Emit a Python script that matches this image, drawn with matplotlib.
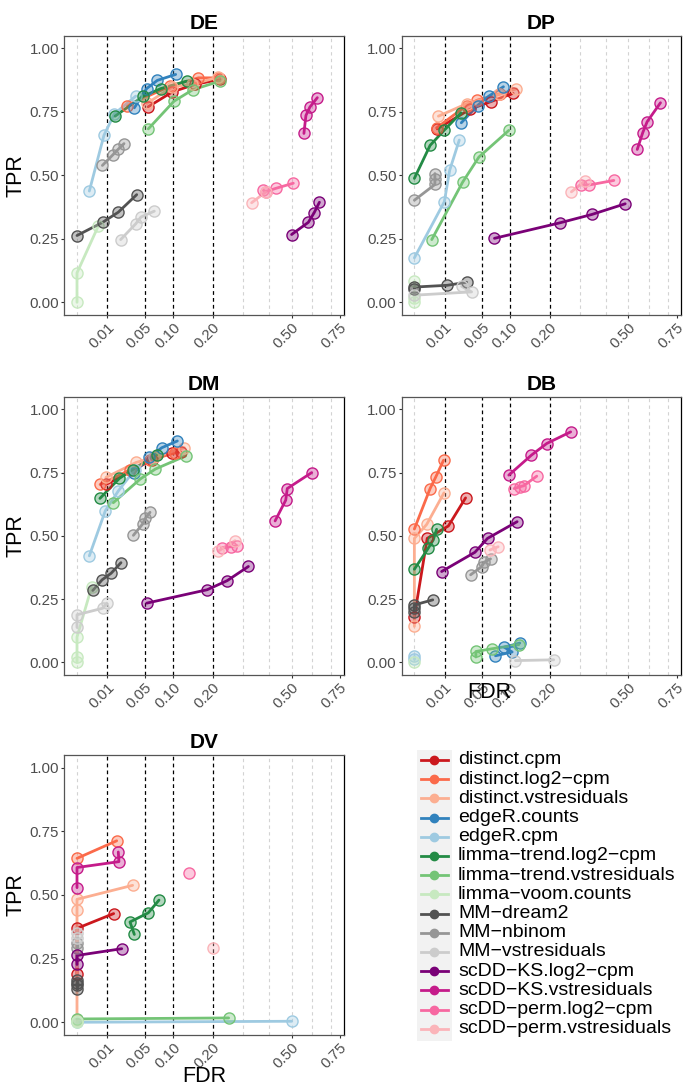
import numpy as np
import matplotlib
matplotlib.use("Agg")
import matplotlib.pyplot as plt
from matplotlib.colors import to_rgba
from matplotlib.lines import Line2D
from matplotlib.patches import Rectangle
from matplotlib.ticker import NullLocator

plt.rcParams['font.family'] = ['Liberation Sans', 'DejaVu Sans']

# methods and colours (legend order)
METHODS = ["distinct.cpm", "distinct.log2−cpm", "distinct.vstresiduals",
           "edgeR.counts", "edgeR.cpm",
           "limma−trend.log2−cpm", "limma−trend.vstresiduals", "limma−voom.counts",
           "MM−dream2", "MM−nbinom", "MM−vstresiduals",
           "scDD−KS.log2−cpm", "scDD−KS.vstresiduals",
           "scDD−perm.log2−cpm", "scDD−perm.vstresiduals"]
COLORS = ["#CB181D", "#FB6A4A", "#FCAE91", "#3182BD", "#9ECAE1",
          "#238B45", "#74C476", "#C7E9C0", "#525252", "#969696", "#CCCCCC",
          "#7A0177", "#C51B8A", "#F768A1", "#FBB4B9"]

XTICKS = [0.01, 0.05, 0.10, 0.20, 0.50, 0.75]
XTICK_LABELS = ["0.01", "0.05", "0.10", "0.20", "0.50", "0.75"]
YTICKS = [0, 0.25, 0.5, 0.75, 1.0]
YTICK_LABELS = ["0.00", "0.25", "0.50", "0.75", "1.00"]
THRESHOLDS = [0.01, 0.05, 0.10, 0.20]
GRID_X = [0, 0.3, 0.4, 0.5, 0.6, 0.7]

# ---- DE ----
DE_FDR = {
    "distinct.cpm": [0.055, 0.099, 0.151, 0.222],
    "distinct.log2−cpm": [0.027, 0.094, 0.160, 0.220],
    "distinct.vstresiduals": [0.053, 0.099, 0.144, 0.217],
    "edgeR.counts": [0.0357, 0.0527, 0.070, 0.1057],
    "edgeR.cpm": [0.00165, 0.0079, 0.0151, 0.0374],
    "limma−trend.log2−cpm": [0.0157, 0.0478, 0.0766, 0.1306],
    "limma−trend.vstresiduals": [0.0552, 0.1021, 0.1452, 0.222],
    "limma−voom.counts": [0, 0, 0.0049],
    "MM−dream2": [0, 0.00715, 0.01855, 0.0387],
    "MM−nbinom": [0.007, 0.0138, 0.01825, 0.024],
    "MM−vstresiduals": [0.0207, 0.0374, 0.0445, 0.0649],
    "scDD−KS.log2−cpm": [0.5, 0.581, 0.61, 0.638],
    "scDD−KS.vstresiduals": [0.559, 0.569, 0.589, 0.627],
    "scDD−perm.log2−cpm": [0.377, 0.386, 0.430, 0.508],
    "scDD−perm.vstresiduals": [0.331, 0.386],
}
DE_TPR = {
    "distinct.cpm": [0.770, 0.829, 0.858, 0.878],
    "distinct.log2−cpm": [0.775, 0.851, 0.884, 0.884],
    "distinct.vstresiduals": [0.783, 0.849, 0.858, 0.887],
    "edgeR.counts": [0.766, 0.842, 0.874, 0.8975],
    "edgeR.cpm": [0.438, 0.658, 0.742, 0.812],
    "limma−trend.log2−cpm": [0.733, 0.812, 0.842, 0.871],
    "limma−trend.vstresiduals": [0.683, 0.792, 0.837, 0.871],
    "limma−voom.counts": [0, 0.116, 0.30],
    "MM−dream2": [0.263, 0.315, 0.355, 0.424],
    "MM−nbinom": [0.539, 0.580, 0.602, 0.625],
    "MM−vstresiduals": [0.247, 0.309, 0.336, 0.359],
    "scDD−KS.log2−cpm": [0.267, 0.315, 0.352, 0.394],
    "scDD−KS.vstresiduals": [0.665, 0.736, 0.769, 0.806],
    "scDD−perm.log2−cpm": [0.4415, 0.436, 0.449, 0.469],
    "scDD−perm.vstresiduals": [0.392, 0.434],
}

# ---- DP ----
DP_FDR = {
    "distinct.cpm": [0.0057, 0.0336, 0.0633, 0.1064],
    "distinct.log2−cpm": [0.0054, 0.0297, 0.0431, 0.0797],
    "distinct.vstresiduals": [0.0063, 0.0297, 0.0784, 0.1137],
    "edgeR.counts": [0.024, 0.0435, 0.0605, 0.0866],
    "edgeR.cpm": [0, 0.0098, 0.0136, 0.022],
    "limma−trend.log2−cpm": [0, 0.0027, 0.0096, 0.0237],
    "limma−trend.vstresiduals": [0.0033, 0.0254, 0.0454, 0.0973],
    "limma−voom.counts": [0, 0, 0],
    "MM−dream2": [0, 0, 0.0118, 0.0297],
    "MM−nbinom": [0, 0.0046, 0.0046, 0.0046],
    "MM−vstresiduals": [0, 0.0357, 0.0243],
    "scDD−KS.log2−cpm": [0.070, 0.231, 0.344, 0.485],
    "scDD−KS.vstresiduals": [0.542, 0.569, 0.591, 0.661],
    "scDD−perm.log2−cpm": [0.304, 0.333, 0.434],
    "scDD−perm.vstresiduals": [0.269, 0.316],
}
DP_TPR = {
    "distinct.cpm": [0.683, 0.760, 0.790, 0.823],
    "distinct.log2−cpm": [0.687, 0.775, 0.796, 0.821],
    "distinct.vstresiduals": [0.733, 0.782, 0.819, 0.841],
    "edgeR.counts": [0.707, 0.775, 0.812, 0.849],
    "edgeR.cpm": [0.175, 0.396, 0.520, 0.639],
    "limma−trend.log2−cpm": [0.488, 0.618, 0.677, 0.746],
    "limma−trend.vstresiduals": [0.247, 0.473, 0.572, 0.677],
    "limma−voom.counts": [0, 0.017, 0.083],
    "MM−dream2": [0.052, 0.060, 0.067, 0.079],
    "MM−nbinom": [0.402, 0.464, 0.486, 0.507],
    "MM−vstresiduals": [0.028, 0.041, 0.063],
    "scDD−KS.log2−cpm": [0.252, 0.313, 0.346, 0.388],
    "scDD−KS.vstresiduals": [0.602, 0.668, 0.711, 0.786],
    "scDD−perm.log2−cpm": [0.463, 0.462, 0.480],
    "scDD−perm.vstresiduals": [0.435, 0.477],
}

# ---- DM ----
DM_FDR = {
    "distinct.cpm": [0.0091, 0.0616, 0.0973, 0.1167],
    "distinct.log2−cpm": [0.0058, 0.030, 0.058, 0.105],
    "distinct.vstresiduals": [0.0091, 0.0378, 0.0638, 0.125],
    "edgeR.counts": [0.0353, 0.0568, 0.0778, 0.1093],
    "edgeR.cpm": [0.00165, 0.0087, 0.0186, 0.0365],
    "limma−trend.log2−cpm": [0.0057, 0.0195, 0.0336, 0.0689],
    "limma−trend.vstresiduals": [0.0143, 0.0431, 0.0666, 0.1282],
    "limma−voom.counts": [0, 0, 0, 0.0023],
    "MM−dream2": [0.0027, 0.0068, 0.0126, 0.021],
    "MM−nbinom": [0.0345, 0.0468, 0.0507, 0.0579],
    "MM−vstresiduals": [0, 0, 0.0072, 0.0096],
    "scDD−KS.log2−cpm": [0.0527, 0.184, 0.245, 0.319],
    "scDD−KS.vstresiduals": [0.426, 0.473, 0.480, 0.598],
    "scDD−perm.log2−cpm": [0.227, 0.258, 0.279],
    "scDD−perm.vstresiduals": [0.217, 0.271],
}
DM_TPR = {
    "distinct.cpm": [0.703, 0.801, 0.828, 0.832],
    "distinct.log2−cpm": [0.703, 0.760, 0.800, 0.828],
    "distinct.vstresiduals": [0.731, 0.790, 0.810, 0.849],
    "edgeR.counts": [0.749, 0.810, 0.848, 0.875],
    "edgeR.cpm": [0.421, 0.599, 0.678, 0.762],
    "limma−trend.log2−cpm": [0.648, 0.727, 0.762, 0.819],
    "limma−trend.vstresiduals": [0.631, 0.724, 0.764, 0.816],
    "limma−voom.counts": [0, 0.020, 0.100, 0.297],
    "MM−dream2": [0.284, 0.326, 0.352, 0.394],
    "MM−nbinom": [0.502, 0.547, 0.569, 0.593],
    "MM−vstresiduals": [0.138, 0.188, 0.214, 0.234],
    "scDD−KS.log2−cpm": [0.234, 0.287, 0.323, 0.379],
    "scDD−KS.vstresiduals": [0.559, 0.641, 0.687, 0.750],
    "scDD−perm.log2−cpm": [0.453, 0.457, 0.461],
    "scDD−perm.vstresiduals": [0.440, 0.481],
}

# ---- DB ----
DB_FDR = {
    "distinct.cpm": [0, 0.0018, 0.0126, 0.0286],
    "distinct.log2−cpm": [0, 0.0027, 0.0049, 0.0093],
    "distinct.vstresiduals": [0, 0, 0.00165, 0.0096],
    "edgeR.counts": [0.0718, 0.1043, 0.0879, 0.1212],
    "edgeR.cpm": [0, 0],
    "limma−trend.log2−cpm": [0, 0.0021, 0.0039, 0.0054],
    "limma−trend.vstresiduals": [0.0413, 0.0413, 0.0666, 0.119],
    "limma−voom.counts": [0],
    "MM−dream2": [0, 0, 0, 0.0037],
    "MM−nbinom": [0.0345, 0.0492, 0.0532, 0.0633],
    "MM−vstresiduals": [0.1115, 0.2118],
    "scDD−KS.log2−cpm": [0.0081, 0.040, 0.0584, 0.1152],
    "scDD−KS.vstresiduals": [0.0973, 0.1495, 0.1911, 0.2665],
    "scDD−perm.log2−cpm": [0.1086, 0.1212, 0.1306, 0.1634],
    "scDD−perm.vstresiduals": [0.0622, 0.0766],
}
DB_TPR = {
    "distinct.cpm": [0.181, 0.490, 0.539, 0.650],
    "distinct.log2−cpm": [0.527, 0.687, 0.731, 0.799],
    "distinct.vstresiduals": [0.142, 0.490, 0.545, 0.670],
    "edgeR.counts": [0.026, 0.041, 0.060, 0.076],
    "edgeR.cpm": [0.013, 0.026],
    "limma−trend.log2−cpm": [0.368, 0.451, 0.484, 0.526],
    "limma−trend.vstresiduals": [0.021, 0.043, 0.054, 0.070],
    "limma−voom.counts": [0],
    "MM−dream2": [0.200, 0.215, 0.227, 0.247],
    "MM−nbinom": [0.346, 0.378, 0.396, 0.409],
    "MM−vstresiduals": [0.007, 0.010],
    "scDD−KS.log2−cpm": [0.359, 0.435, 0.490, 0.556],
    "scDD−KS.vstresiduals": [0.740, 0.819, 0.865, 0.911],
    "scDD−perm.log2−cpm": [0.687, 0.694, 0.698, 0.736],
    "scDD−perm.vstresiduals": [0.444, 0.457],
}

# ---- DV ----
DV_FDR = {
    "distinct.cpm": [0, 0, 0.0146],
    "distinct.log2−cpm": [0, 0.0171],
    "distinct.vstresiduals": [0, 0, 0, 0.0336],
    "edgeR.cpm": [0, 0.5],
    "limma−trend.log2−cpm": [0.0357, 0.0305, 0.0552, 0.073],
    "limma−trend.vstresiduals": [0, 0.2497],
    "limma−voom.counts": [0, 0],
    "MM−dream2": [0, 0, 0, 0],
    "MM−nbinom": [0, 0],
    "MM−vstresiduals": [0, 0],
    "scDD−KS.log2−cpm": [0, 0, 0.0217],
    "scDD−KS.vstresiduals": [0, 0, 0.0191, 0.0185],
    "scDD−perm.log2−cpm": [0.137],
    "scDD−perm.vstresiduals": [0.2018],
}
DV_TPR = {
    "distinct.cpm": [0.188, 0.369, 0.427],
    "distinct.log2−cpm": [0.644, 0.713],
    "distinct.vstresiduals": [0.01, 0.440, 0.483, 0.538],
    "edgeR.cpm": [0, 0.004],
    "limma−trend.log2−cpm": [0.345, 0.394, 0.430, 0.480],
    "limma−trend.vstresiduals": [0.013, 0.017],
    "limma−voom.counts": [0, 0.005],
    "MM−dream2": [0.130, 0.145, 0.155, 0.165],
    "MM−nbinom": [0.293, 0.312],
    "MM−vstresiduals": [0.332, 0.352],
    "scDD−KS.log2−cpm": [0.227, 0.2625, 0.289],
    "scDD−KS.vstresiduals": [0.529, 0.608, 0.631, 0.669],
    "scDD−perm.log2−cpm": [0.588],
    "scDD−perm.vstresiduals": [0.293],
}

W, H = 691, 1086


def px_rect(l, t, r, b):
    return [l / W, 1 - b / H, (r - l) / W, (b - t) / H]


def sqrt_fwd(x):
    x = np.asarray(x, dtype=float)
    return np.sign(x) * np.sqrt(np.abs(x))


def sqrt_inv(x):
    x = np.asarray(x, dtype=float)
    return np.sign(x) * x ** 2


# name, fdr, tpr, rect (px), show TPR label, FDR label position (axes frac) or None
panels = [
    ("DE", DE_FDR, DE_TPR, (64.3, 35.7, 344.3, 315), True, None),
    ("DP", DP_FDR, DP_TPR, (401.7, 35.7, 681, 315), False, None),
    ("DM", DM_FDR, DM_TPR, (64.3, 396.7, 344.3, 675), True, None),
    ("DB", DB_FDR, DB_TPR, (401.7, 396.7, 681, 675), False, (0.313, -0.025)),
    ("DV", DV_FDR, DV_TPR, (64.3, 755, 344.3, 1035), True, (0.5, -0.112)),
]

fig = plt.figure(figsize=(W / 100, H / 100), dpi=100)

for name, fdr, tpr, rect, ylab, xlab in panels:
    ax = fig.add_axes(px_rect(*rect))
    ax.set_xscale('function', functions=(sqrt_fwd, sqrt_inv))
    ax.set_xlim(-0.00175, 0.7757)
    ax.set_ylim(-0.05, 1.05)

    for g in GRID_X:
        ax.axvline(g, color='#d3d3d3', lw=0.8, ls=(0, (3, 3)), zorder=1)
    for t in THRESHOLDS:
        ax.axvline(t, color='black', lw=0.9, ls=(0, (3, 2.5)), zorder=2)

    # lines first, then points on top (like ggplot)
    for m, c in zip(METHODS, COLORS):
        if m in fdr:
            ax.plot(fdr[m], tpr[m], color=c, lw=2.0, zorder=3,
                    solid_capstyle='round')
    for m, c in zip(METHODS, COLORS):
        if m in fdr:
            ax.plot(fdr[m], tpr[m], ls='none', marker='o', ms=8,
                    mfc=to_rgba(c, 0.35), mec=c, mew=1.0, zorder=4)

    ax.set_xticks(XTICKS)
    ax.set_xticklabels(XTICK_LABELS, rotation=45, ha='right',
                       rotation_mode='anchor')
    ax.xaxis.set_minor_locator(NullLocator())
    ax.set_yticks(YTICKS)
    ax.set_yticklabels(YTICK_LABELS)
    ax.tick_params(labelsize=10.8, labelcolor='#4D4D4D', color='#333333',
                   length=2, width=0.8, pad=1.8)

    for side in ['left', 'bottom', 'top']:
        ax.spines[side].set_color('#555555')
        ax.spines[side].set_linewidth(0.9)
    ax.spines['right'].set_color('black')
    ax.spines['right'].set_linewidth(0.9)

    ax.set_title(name, fontsize=15, fontweight='bold', pad=5)
    if ylab:
        ax.set_ylabel("TPR", fontsize=15.5)
        ax.yaxis.set_label_coords(-0.135, 0.5)
    if xlab is not None:
        ax.set_xlabel("FDR", fontsize=15.5)
        ax.xaxis.set_label_coords(*xlab)

# legend drawn by hand so the grey key column matches
key_left, key_right = 417, 452
y_first, step = 760, 19.2
fig.patches.append(Rectangle((key_left / W, 1 - 1041 / H),
                             (key_right - key_left) / W, (1041 - 750) / H,
                             transform=fig.transFigure, facecolor='#F2F2F2',
                             edgecolor='none', zorder=0))
for i, (m, c) in enumerate(zip(METHODS, COLORS)):
    yy = 1 - (y_first + i * step) / H
    fig.add_artist(Line2D([421 / W, 448 / W], [yy, yy], color=c, lw=2.0,
                          transform=fig.transFigure))
    fig.add_artist(Line2D([434.5 / W], [yy], color=c, marker='o', ms=6,
                          ls='none', transform=fig.transFigure))
    fig.text(458 / W, yy, m, fontsize=14, va='center', ha='left')

fig.savefig("out.png", dpi=100)
